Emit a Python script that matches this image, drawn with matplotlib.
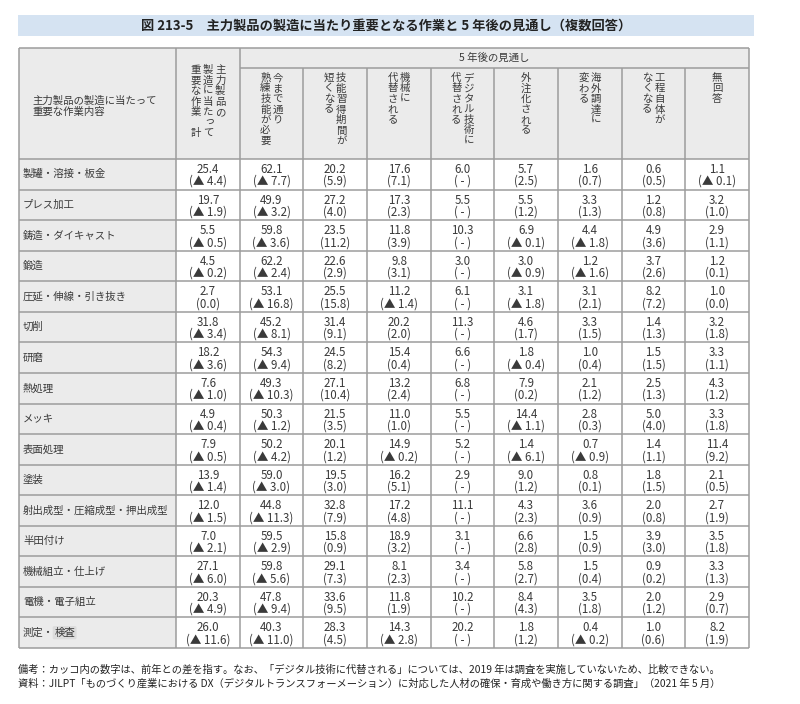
import matplotlib.pyplot as plt
from matplotlib.patches import Rectangle

plt.rcParams['font.family'] = ['Noto Sans CJK JP', 'DejaVu Sans']

title = '図 213-5\u3000主力製品の製造に当たり重要となる作業と 5 年後の見通し（複数回答）'
note1 = '備考：カッコ内の数字は、前年との差を指す。なお、「デジタル技術に代替される」については、2019 年は調査を実施していないため、比較できない。'
note2 = '資料：JILPT「ものづくり産業における DX（デジタルトランスフォーメーション）に対応した人材の確保・育成や働き方に関する調査」（2021 年 5 月）'

rows = ['製罐・溶接・板金', 'プレス加工', '鋳造・ダイキャスト', '鍛造', '圧延・伸線・引き抜き',
        '切削', '研磨', '熱処理', 'メッキ', '表面処理', '塗装', '射出成型・圧縮成型・押出成型',
        '半田付け', '機械組立・仕上げ', '電機・電子組立', '測定・検査']

# vertical header texts, columns read right to left
headers = [
    ['主力製品の', '製造に当たって', '重要な作業\u3000計'],
    ['今まで通り', '熟練技能が必要'],
    ['技能習得期間が', '短くなる'],
    ['機械に', '代替される'],
    ['デジタル技術に', '代替される'],
    ['外注化される'],
    ['海外調達に', '変わる'],
    ['工程自体が', 'なくなる'],
    ['無回答'],
]

# share (%) and difference from previous year (None = no comparison)
total = [25.4, 19.7, 5.5, 4.5, 2.7, 31.8, 18.2, 7.6, 4.9, 7.9, 13.9, 12.0, 7.0, 27.1, 20.3, 26.0]
total_d = [-4.4, -1.9, -0.5, -0.2, 0.0, -3.4, -3.6, -1.0, -0.4, -0.5, -1.4, -1.5, -2.1, -6.0, -4.9, -11.6]
skill = [62.1, 49.9, 59.8, 62.2, 53.1, 45.2, 54.3, 49.3, 50.3, 50.2, 59.0, 44.8, 59.5, 59.8, 47.8, 40.3]
skill_d = [-7.7, -3.2, -3.6, -2.4, -16.8, -8.1, -9.4, -10.3, -1.2, -4.2, -3.0, -11.3, -2.9, -5.6, -9.4, -11.0]
shorter = [20.2, 27.2, 23.5, 22.6, 25.5, 31.4, 24.5, 27.1, 21.5, 20.1, 19.5, 32.8, 15.8, 29.1, 33.6, 28.3]
shorter_d = [5.9, 4.0, 11.2, 2.9, 15.8, 9.1, 8.2, 10.4, 3.5, 1.2, 3.0, 7.9, 0.9, 7.3, 9.5, 4.5]
machine = [17.6, 17.3, 11.8, 9.8, 11.2, 20.2, 15.4, 13.2, 11.0, 14.9, 16.2, 17.2, 18.9, 8.1, 11.8, 14.3]
machine_d = [7.1, 2.3, 3.9, 3.1, -1.4, 2.0, 0.4, 2.4, 1.0, -0.2, 5.1, 4.8, 3.2, 2.3, 1.9, -2.8]
digital = [6.0, 5.5, 10.3, 3.0, 6.1, 11.3, 6.6, 6.8, 5.5, 5.2, 2.9, 11.1, 3.1, 3.4, 10.2, 20.2]
digital_d = [None] * 16
outsource = [5.7, 5.5, 6.9, 3.0, 3.1, 4.6, 1.8, 7.9, 14.4, 1.4, 9.0, 4.3, 6.6, 5.8, 8.4, 1.8]
outsource_d = [2.5, 1.2, -0.1, -0.9, -1.8, 1.7, -0.4, 0.2, -1.1, -6.1, 1.2, 2.3, 2.8, 2.7, 4.3, 1.2]
overseas = [1.6, 3.3, 4.4, 1.2, 3.1, 3.3, 1.0, 2.1, 2.8, 0.7, 0.8, 3.6, 1.5, 1.5, 3.5, 0.4]
overseas_d = [0.7, 1.3, -1.8, -1.6, 2.1, 1.5, 0.4, 1.2, 0.3, -0.9, 0.1, 0.9, 0.9, 0.4, 1.8, -0.2]
gone = [0.6, 1.2, 4.9, 3.7, 8.2, 1.4, 1.5, 2.5, 5.0, 1.4, 1.8, 2.0, 3.9, 0.9, 2.0, 1.0]
gone_d = [0.5, 0.8, 3.6, 2.6, 7.2, 1.3, 1.5, 1.3, 4.0, 1.1, 1.5, 0.8, 3.0, 0.2, 1.2, 0.6]
noans = [1.1, 3.2, 2.9, 1.2, 1.0, 3.2, 3.3, 4.3, 3.3, 11.4, 2.1, 2.7, 3.5, 3.3, 2.9, 8.2]
noans_d = [-0.1, 1.0, 1.1, 0.1, 0.0, 1.8, 1.1, 1.2, 1.8, 9.2, 0.5, 1.9, 1.8, 1.3, 0.7, 1.9]

values = [total, skill, shorter, machine, digital, outsource, overseas, gone, noans]
diffs = [total_d, skill_d, shorter_d, machine_d, digital_d, outsource_d, overseas_d, gone_d, noans_d]

tc = '#3a3a3a'
lc = '#9c9c9c'
gray = '#ebebeb'

fig = plt.figure(figsize=(8, 7.04), dpi=100)
ax = fig.add_axes([0, 0, 1, 1])
ax.set_xlim(0, 800)
ax.set_ylim(704, 0)
ax.axis('off')

# title band
ax.add_patch(Rectangle((18, 15), 736, 21, color='#d5e3f2', lw=0))
ax.text(386, 25.5, title, ha='center', va='center', fontsize=9.5, fontweight='bold', color='#222222')

edges = [19, 176, 240, 303, 367, 431, 494, 558, 622, 685, 749]
top, sub, hbot, bot = 48, 68, 159, 648
rh = (bot - hbot) / len(rows)

# backgrounds
ax.add_patch(Rectangle((edges[0], top), edges[-1] - edges[0], hbot - top, color=gray, lw=0))
ax.add_patch(Rectangle((edges[0], hbot), edges[1] - edges[0], bot - hbot, color=gray, lw=0))

# grid
kw = dict(color=lc, lw=1.1)
ax.hlines([top, hbot, bot], edges[0], edges[-1], **kw)
ax.hlines(sub, edges[2], edges[-1], **kw)
ax.hlines([hbot + i * rh for i in range(1, len(rows))], edges[0], edges[-1], **kw)
ax.vlines([edges[0], edges[1], edges[2], edges[-1]], top, bot, **kw)
ax.vlines(edges[3:-1], sub, bot, **kw)

# header texts
ax.text(32, 100.5, '主力製品の製造に当たって', ha='left', va='center', fontsize=7.5, color=tc)
ax.text(32, 112, '重要な作業内容', ha='left', va='center', fontsize=7.5, color=tc)
ax.text((edges[2] + edges[-1]) / 2, 58, '5 年後の見通し', ha='center', va='center', fontsize=7.5, color=tc)

small = 'っゃゅょッャュョ'


def vtext(cx, y0, lines, px=12.3, py=10.5):
    n = len(lines)
    for i, line in enumerate(lines):
        x = cx + (n - 1) / 2 * px - i * px
        for j, ch in enumerate(line):
            if ch in ' \u3000':
                continue
            dx, dy = (2, -2) if ch in small else (0, 0)
            ax.text(x + dx, y0 + j * py + dy, ch, ha='center', va='center', fontsize=7.5, color=tc)


for k, lines in enumerate(headers):
    cx = (edges[k + 1] + edges[k + 2]) / 2
    vtext(cx, 70 if k == 0 else 78, lines)


def fmt(d):
    if d is None:
        return '( - )'
    if d < 0:
        return '(▲ %.1f)' % abs(d)
    return '(%.1f)' % d


# body
for r, name in enumerate(rows):
    y = hbot + r * rh
    if name == '測定・検査':
        t1 = ax.text(23, y + rh / 2, '測定・', ha='left', va='center', fontsize=7.5, color=tc)
        ax.annotate('検査', xy=(1, 0.5), xycoords=t1, ha='left', va='center', fontsize=7.5, color=tc,
                    bbox=dict(boxstyle='round,pad=0.15', fc='#dcdcdc', ec='none'))
    else:
        ax.text(23, y + rh / 2, name, ha='left', va='center', fontsize=7.5, color=tc)
    for c in range(len(values)):
        cx = (edges[c + 1] + edges[c + 2]) / 2
        cell = '%.1f\n%s' % (values[c][r], fmt(diffs[c][r]))
        ax.text(cx, y + 16.5, cell, ha='center', va='center', ma='center', fontsize=8.3,
                linespacing=0.9, color=tc)

ax.text(18, 670, note1, ha='left', va='center', fontsize=7.4, color='#222222')
ax.text(18, 684, note2, ha='left', va='center', fontsize=7.4, color='#222222')

plt.savefig('out.png', dpi=100)
